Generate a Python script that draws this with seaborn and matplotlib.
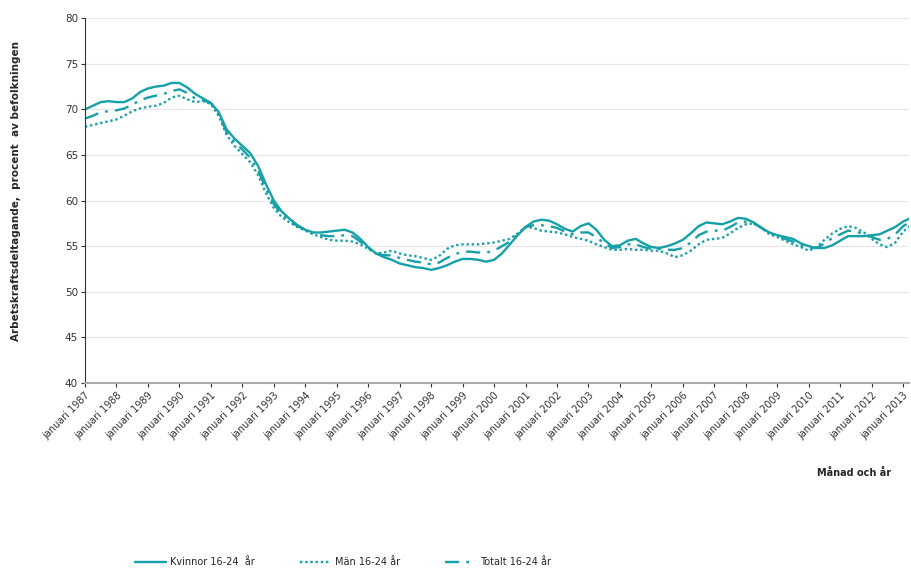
import matplotlib
matplotlib.use("Agg")
import matplotlib.pyplot as plt
import seaborn as sns
import numpy as np
import pandas as pd

# kvartalsvärden, januari 1987 - april 2013
tid = np.arange(1987, 2013.3, 0.25)

kvinnor = [70.0, 70.4, 70.8, 70.9, 70.8, 70.8, 71.2, 71.9, 72.3, 72.5, 72.6, 72.9,
           72.9, 72.4, 71.7, 71.2, 70.7, 69.7, 67.8, 66.8, 66.0, 65.2, 63.8, 61.8,
           60.0, 58.8, 58.0, 57.3, 56.8, 56.5, 56.5, 56.6, 56.7, 56.8, 56.5, 55.8,
           54.9, 54.2, 53.8, 53.5, 53.1, 52.9, 52.7, 52.6, 52.4, 52.6, 52.9, 53.3,
           53.6, 53.6, 53.5, 53.3, 53.5, 54.2, 55.2, 56.2, 57.1, 57.7, 57.9, 57.8,
           57.4, 56.9, 56.6, 57.2, 57.5, 56.8, 55.7, 55.0, 55.1, 55.6, 55.8, 55.3,
           54.9, 54.8, 55.0, 55.3, 55.7, 56.4, 57.2, 57.6, 57.5, 57.4, 57.7, 58.1,
           58.0, 57.6, 57.0, 56.5, 56.2, 56.0, 55.8, 55.3, 55.0, 54.8, 54.8, 55.1,
           55.6, 56.1, 56.1, 56.1, 56.2, 56.3, 56.7, 57.1, 57.7, 58.1]

man = [68.1, 68.3, 68.5, 68.7, 68.9, 69.3, 69.8, 70.1, 70.3, 70.4, 70.7, 71.3,
       71.5, 71.1, 70.8, 70.9, 70.6, 69.3, 67.2, 66.0, 65.1, 64.2, 62.8, 60.8,
       59.2, 58.2, 57.6, 57.1, 56.7, 56.3, 56.0, 55.7, 55.6, 55.6, 55.5, 55.2,
       54.7, 54.2, 54.3, 54.5, 54.2, 54.0, 53.9, 53.7, 53.5, 53.9, 54.7, 55.1,
       55.2, 55.2, 55.2, 55.3, 55.4, 55.6, 55.8, 56.4, 57.1, 57.0, 56.7, 56.6,
       56.5, 56.3, 56.0, 55.8, 55.6, 55.2, 54.9, 54.6, 54.6, 54.7, 54.6, 54.6,
       54.5, 54.5, 54.2, 53.8, 54.0, 54.5, 55.2, 55.7, 55.8, 55.9, 56.4, 57.0,
       57.4, 57.5, 57.0, 56.3, 56.0, 55.6, 55.2, 54.9, 54.5, 54.9, 55.7, 56.4,
       56.9, 57.2, 57.0, 56.5, 55.8, 55.2, 54.9, 55.4, 56.6, 57.3]

totalt = [69.0, 69.3, 69.7, 69.8, 69.9, 70.1, 70.5, 71.0, 71.3, 71.5, 71.7, 72.0,
          72.2, 71.8, 71.2, 71.0, 70.7, 69.5, 67.5, 66.4, 65.6, 64.7, 63.3, 61.3,
          59.6, 58.5, 57.8, 57.2, 56.8, 56.4, 56.2, 56.1, 56.1, 56.2, 56.1, 55.5,
          54.8, 54.2, 54.0, 54.0, 53.7, 53.5, 53.3, 53.2, 53.0, 53.2, 53.7, 54.1,
          54.4, 54.4, 54.3, 54.3, 54.5, 55.0, 55.5, 56.3, 57.1, 57.3, 57.3, 57.2,
          57.0, 56.6, 56.3, 56.5, 56.5, 56.0, 55.3, 54.8, 54.9, 55.2, 55.2, 54.9,
          54.7, 54.7, 54.6, 54.6, 54.8, 55.4, 56.2, 56.6, 56.7, 56.7, 57.1, 57.6,
          57.7, 57.5, 57.0, 56.4, 56.1, 55.8, 55.5, 55.1, 54.8, 54.8, 55.3, 55.9,
          56.3, 56.7, 56.6, 56.3, 56.0, 55.7, 55.8, 56.3, 57.2, 57.7]

serier = ['Kvinnor 16-24  år', 'Män 16-24 år', 'Totalt 16-24 år']
ar = list(range(1987, 2014))
ar_etiketter = [f'januari {a}' for a in ar]

df = pd.DataFrame({
    'tid': np.concatenate([tid, tid, tid]),
    'varde': kvinnor + man + totalt,
    'serie': np.repeat(serier, len(tid)),
})

sns.set_style('white')
plt.rcParams['font.family'] = ['DejaVu Sans']
farg = '#16a0a7'

fig = plt.figure(figsize=(9.11, 5.69), dpi=100)
ax = fig.add_axes([0.0933, 0.327, 0.905, 0.641])

sns.lineplot(data=df, x='tid', y='varde', hue='serie', style='serie',
             palette=[farg] * 3,
             dashes={serier[0]: '', serier[1]: (1, 1.2), serier[2]: (6, 3, 1.2, 3)},
             linewidth=1.7, ax=ax, legend=False)

ax.set_xlim(1987, 2013.2)
ax.set_ylim(40, 80)
ax.set_yticks(range(40, 81, 5))
ax.tick_params(axis='y', labelsize=7.5, colors='#333333', length=3, pad=2)
ax.set_xticks(ar)
ax.set_xticklabels(ar_etiketter, rotation=45, ha='right', rotation_mode='anchor',
                   fontsize=7)
ax.tick_params(axis='x', length=3, colors='#333333', pad=2)
ax.tick_params(axis='both', direction='out', which='major', bottom=True, left=True)
ax.grid(axis='y', color='#e6e6e6', linewidth=0.8)
ax.set_axisbelow(True)
for s in ['top', 'right']:
    ax.spines[s].set_visible(False)
ax.spines['left'].set_color('#333333')
ax.spines['bottom'].set_color('#aaaaaa')
ax.spines['bottom'].set_linewidth(1.5)

ax.set_xlabel('')
ax.set_ylabel('')
fig.text(0.018, 0.665, 'Arbetskraftsdeltagande,  procent  av befolkningen',
         rotation=90, ha='center', va='center', fontsize=7.5, fontweight='bold')
fig.text(0.938, 0.168, 'Månad och år', ha='center', va='center', fontsize=7,
         fontweight='bold')

handles = [plt.Line2D([], [], color=farg, linewidth=1.7, linestyle='-'),
           plt.Line2D([], [], color=farg, linewidth=1.7, linestyle=(0, (1, 1.2))),
           plt.Line2D([], [], color=farg, linewidth=1.7, linestyle=(0, (6, 3, 1.2, 3)))]
fig.legend(handles, serier, loc='lower left', bbox_to_anchor=(0.139, -0.012),
           ncol=3, frameon=False, fontsize=7, handlelength=3.2,
           handletextpad=0.4, columnspacing=4.6)

fig.savefig('out.png', dpi=100)
